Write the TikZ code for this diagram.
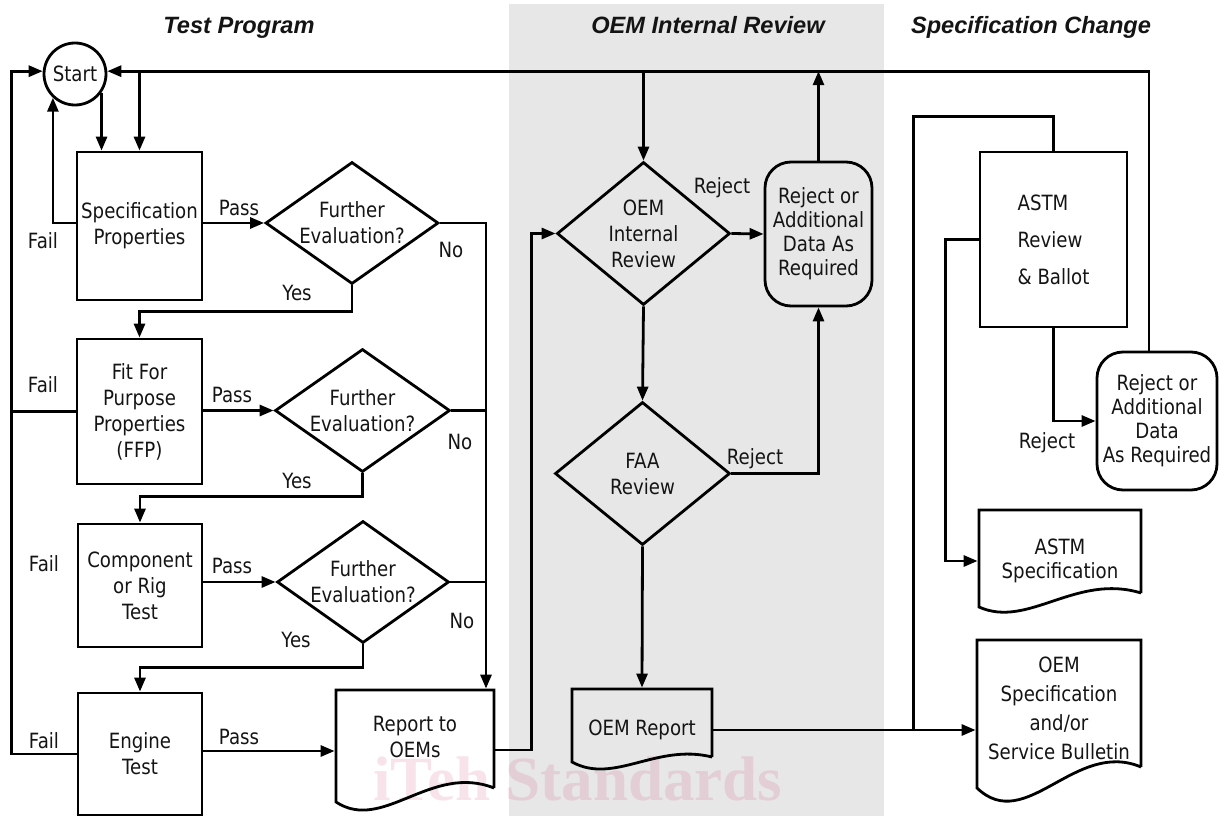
\documentclass[tikz,border=0pt]{standalone}
\usepackage{fontspec}
\setmainfont{DejaVu Sans}[FakeStretch=0.865]
\newfontfamily\titlefont{Liberation Sans}
\newfontfamily\wmfont{Liberation Serif}
\usetikzlibrary{arrows.meta,shapes.geometric}
\definecolor{band}{RGB}{231,231,231}
\definecolor{wm}{RGB}{200,60,100}
\definecolor{ink}{RGB}{20,20,20}
\begin{document}
\begin{tikzpicture}[x=1pt,y=-1pt,line width=2.8pt,
  every node/.style={font=\fontsize{21}{26}\selectfont,inner sep=2pt,text=ink},
  box/.style={draw,rectangle,align=center},
  dia/.style={draw,diamond,inner sep=0pt},
  rbox/.style={draw,rectangle,rounded corners=26pt,align=center,font=\fontsize{21}{24}\selectfont},
  txt/.style={align=center},
  lbl/.style={anchor=base},
  ttl/.style={anchor=base,font=\titlefont\bfseries\itshape\fontsize{23.6}{28}\selectfont},
  arr/.style={-{Triangle[length=14pt,width=11pt]}}]
\useasboundingbox (0,0) rectangle (1219,816);
% background band
\fill[band] (509,4) rectangle (884,816);
% watermark
\node[anchor=base west,inner sep=0pt,font=\wmfont\bfseries\fontsize{63}{70}\selectfont,text=wm,text opacity=0.14] (wmk) at (372,800) {iTeh Standards};
% titles
\node[ttl] (t1) at (239,34) {Test Program};
\node[ttl] (t2) at (708,34) {OEM Internal Review};
\node[ttl] (t3) at (1031,34) {Specification Change};
% nodes
\node[draw,circle,minimum size=62pt,inner sep=0pt] (start) at (75,74) {Start};
\node[box,minimum width=125pt,minimum height=148pt] (spec) at (139.5,226) {Specification\\Properties};
\node[box,minimum width=125pt,minimum height=145pt] (ffp) at (139.5,411.5) {Fit For\\Purpose\\Properties\\(FFP)};
\node[box,minimum width=124pt,minimum height=123pt] (comp) at (140,585.5) {Component\\or Rig\\Test};
\node[box,minimum width=124pt,minimum height=122pt] (eng) at (140,754) {Engine\\Test};
\node[dia,minimum width=173pt,minimum height=122pt] (d1) at (352,223) {};
\node[txt] (d1t) at (d1) {Further\\Evaluation?};
\node[dia,minimum width=175pt,minimum height=123pt] (d2) at (362.5,410.5) {};
\node[txt] (d2t) at (d2) {Further\\Evaluation?};
\node[dia,minimum width=172pt,minimum height=122pt] (d3) at (363,582) {};
\node[txt] (d3t) at (d3) {Further\\Evaluation?};
\node[txt,minimum width=158pt,minimum height=94pt] (rep) at (415,737) {Report to\\OEMs};
\node[dia,minimum width=173pt,minimum height=143pt] (oemrev) at (643.5,233.5) {};
\node[txt] (oemrevt) at (oemrev) {OEM\\Internal\\Review};
\node[rbox,minimum width=107pt,minimum height=144pt] (rej1) at (818.5,234) {Reject or\\Additional\\Data As\\Required};
\node[dia,minimum width=175pt,minimum height=143pt] (faa) at (642.5,473.5) {};
\node[txt] (faat) at (faa) {FAA\\Review};
\node[txt,minimum width=140pt,minimum height=82pt] (oemrep) at (642,730) {OEM Report};
\node[box,minimum width=147pt,minimum height=175pt,align=left,font=\fontsize{21}{37}\selectfont] (astm) at (1053.5,239.5) {ASTM\\Review\\\& Ballot};
\node[rbox,minimum width=120pt,minimum height=138pt] (rej2) at (1157,421) {Reject or\\Additional\\Data\\As Required};
\node[txt,minimum width=162pt,minimum height=102pt,font=\fontsize{21}{24}\selectfont] (astmspec) at (1060,561) {ASTM\\Specification};
\node[txt,minimum width=164pt,minimum height=136pt,font=\fontsize{21}{29}\selectfont] (oemspec) at (1059,708) {OEM\\Specification\\and/or\\Service Bulletin};
% document outlines
\draw (494,788) -- (494,690) -- (336,690) -- (336,802) .. controls (383,833) and (431,763) .. (494,788);
\draw (712,757) -- (712,689) -- (572,689) -- (572,762) .. controls (614,785) and (656,743) .. (712,757);
\draw (1141,593) -- (1141,510) -- (979,510) -- (979,607) .. controls (1028,629) and (1076,573) .. (1141,593);
\draw (1141,767) -- (1141,640) -- (977,640) -- (977,788) .. controls (1026,835) and (1075,739) .. (1141,767);
% labels
\node[lbl] (p1) at (239,215) {Pass};
\node[lbl] (p2) at (232,402) {Pass};
\node[lbl] (p3) at (232,573) {Pass};
\node[lbl] (p4) at (239,744) {Pass};
\node[lbl] (f1) at (43,248) {Fail};
\node[lbl] (f2) at (43,392) {Fail};
\node[lbl] (f3) at (44,571) {Fail};
\node[lbl] (f4) at (44,748) {Fail};
\node[lbl] (n1) at (451,257) {No};
\node[lbl] (n2) at (460,449) {No};
\node[lbl] (n3) at (462,628) {No};
\node[lbl] (y1) at (297,300) {Yes};
\node[lbl] (y2) at (297,488) {Yes};
\node[lbl] (y3) at (296,647) {Yes};
\node[lbl] (r1) at (722,193) {Reject};
\node[lbl] (r2) at (755,464) {Reject};
\node[lbl] (r3) at (1047,448) {Reject};
% connectors
\coordinate (tl) at (spec.north |- start.5);
\draw[arr] ([xshift=-8pt]rej2.north) |- (start.5);
\draw[arr] (tl) -- (spec.north);
\draw[arr] (start.-35) -- (start.-35 |- spec.north);
\draw[arr] (eng.west) -- ++(-65,0) |- (start.175);
\draw (ffp.west) -- ++(-64.5,0);
\draw[arr] ([yshift=3pt]spec.west) -| (start.227);
\draw[arr] (spec.east |- d1.west) -- (d1.west);
\draw[arr] (ffp.east |- d2.west) -- (d2.west);
\draw[arr] (comp.east |- d3.west) -- (d3.west);
\draw[arr] ([yshift=3pt]eng.east) -- ([yshift=3pt]eng.east -| rep.west);
\coordinate (nl) at ([xshift=71pt]rep.north);
\draw[arr] (d1.east) -| (nl);
\draw (d2.east) -- (d2.east -| nl);
\draw (d3.east) -- (d3.east -| nl);
\draw[arr] (d1.south) -- ++(0,26) -| (ffp.north);
\draw[arr] (d2.south) -- ++(0,23) -| (comp.north);
\draw[arr] (d3.south) -- ++(0,23) -| (eng.north);
\draw[arr] ([yshift=-13pt]rep.east) -- ++(36,0) |- (oemrev.west);
\draw[arr] (oemrev.north |- tl) -- (oemrev.north);
\draw[arr] (oemrev.east) -- (rej1.west);
\draw[arr] (rej1.north) -- (rej1.north |- tl);
\draw[arr] (oemrev.south) -- (faa.north);
\draw[arr] (faa.east) -| (rej1.south);
\draw[arr] (faa.south) -- (oemrep.north);
\draw[arr] (oemrep.east) -- (oemrep.east -| oemspec.west);
\coordinate (j1) at ([xshift=200pt]oemrep.east);
\draw (j1) |- ([yshift=34pt]astm.north) -- (astm.north);
\draw[arr] (astm.west) -- ++(-33,0) |- (astmspec.west);
\draw[arr] (astm.south) |- (rej2.west);
\end{tikzpicture}
\end{document}
